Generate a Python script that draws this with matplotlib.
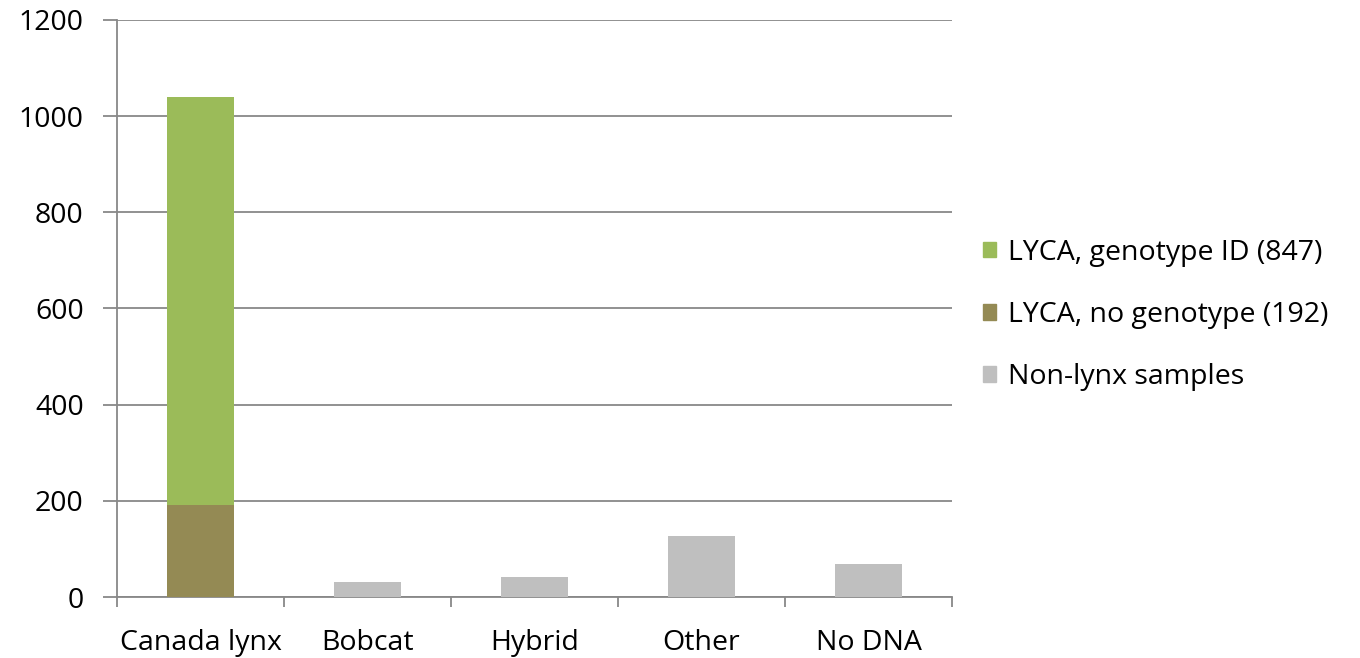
import numpy as np
import matplotlib
matplotlib.use("Agg")
import matplotlib.pyplot as plt
from matplotlib.patches import Patch

categories = ["Canada lynx", "Bobcat", "Hybrid", "Other", "No DNA"]
lyca_no_geno = [192, 0, 0, 0, 0]
lyca_geno = [847, 0, 0, 0, 0]
non_lynx = [0, 31, 42, 127, 69]
legend_labels = ["LYCA, genotype ID (847)", "LYCA, no genotype (192)", "Non-lynx samples"]
y_ticks = [0, 200, 400, 600, 800, 1000, 1200]

GREEN = "#9BBB59"
OLIVE = "#948A54"
GREY = "#BFBFBF"
LINE = "#888888"
FS = 20.5

plt.rcParams['font.family'] = ['Open Sans', 'DejaVu Sans']

fig = plt.figure(figsize=(13.6, 6.58), dpi=100)
ax = fig.add_axes([117 / 1360, 1 - 597 / 658, (952 - 117) / 1360, (597 - 20) / 658])

x = np.arange(len(categories))
w = 0.4
ax.bar(x, lyca_no_geno, w, color=OLIVE, zorder=3)
ax.bar(x, lyca_geno, w, bottom=lyca_no_geno, color=GREEN, zorder=3)
ax.bar(x, non_lynx, w, color=GREY, zorder=3)

ax.set_xlim(-0.5, len(categories) - 0.5)
ax.set_ylim(0, 1200)
ax.set_yticks(y_ticks)
ax.yaxis.grid(True, color=LINE, linewidth=1.3, zorder=0)
ax.tick_params(axis='y', length=10, width=1.3, color=LINE, labelsize=FS, pad=14)

ax.set_xticks(np.arange(len(categories) + 1) - 0.5)
ax.set_xticklabels([])
ax.set_xticks(x, minor=True)
ax.set_xticklabels(categories, minor=True, fontsize=FS)
ax.tick_params(axis='x', which='major', length=7, width=1.3, color=LINE, direction='out')
ax.tick_params(axis='x', which='minor', length=0, pad=23)

for s in ['top', 'right']:
    ax.spines[s].set_visible(False)
for s in ['left', 'bottom']:
    ax.spines[s].set_color(LINE)
    ax.spines[s].set_linewidth(1.3)

handles = [Patch(color=GREEN), Patch(color=OLIVE), Patch(color=GREY)]
fig.legend(handles, legend_labels, loc='center left', bbox_to_anchor=(972 / 1360, 1 - 315 / 658),
           frameon=False, fontsize=FS, handlelength=0.45, handleheight=0.45,
           handletextpad=0.4, labelspacing=1.2, borderaxespad=0)

fig.savefig("out.png", dpi=100)
